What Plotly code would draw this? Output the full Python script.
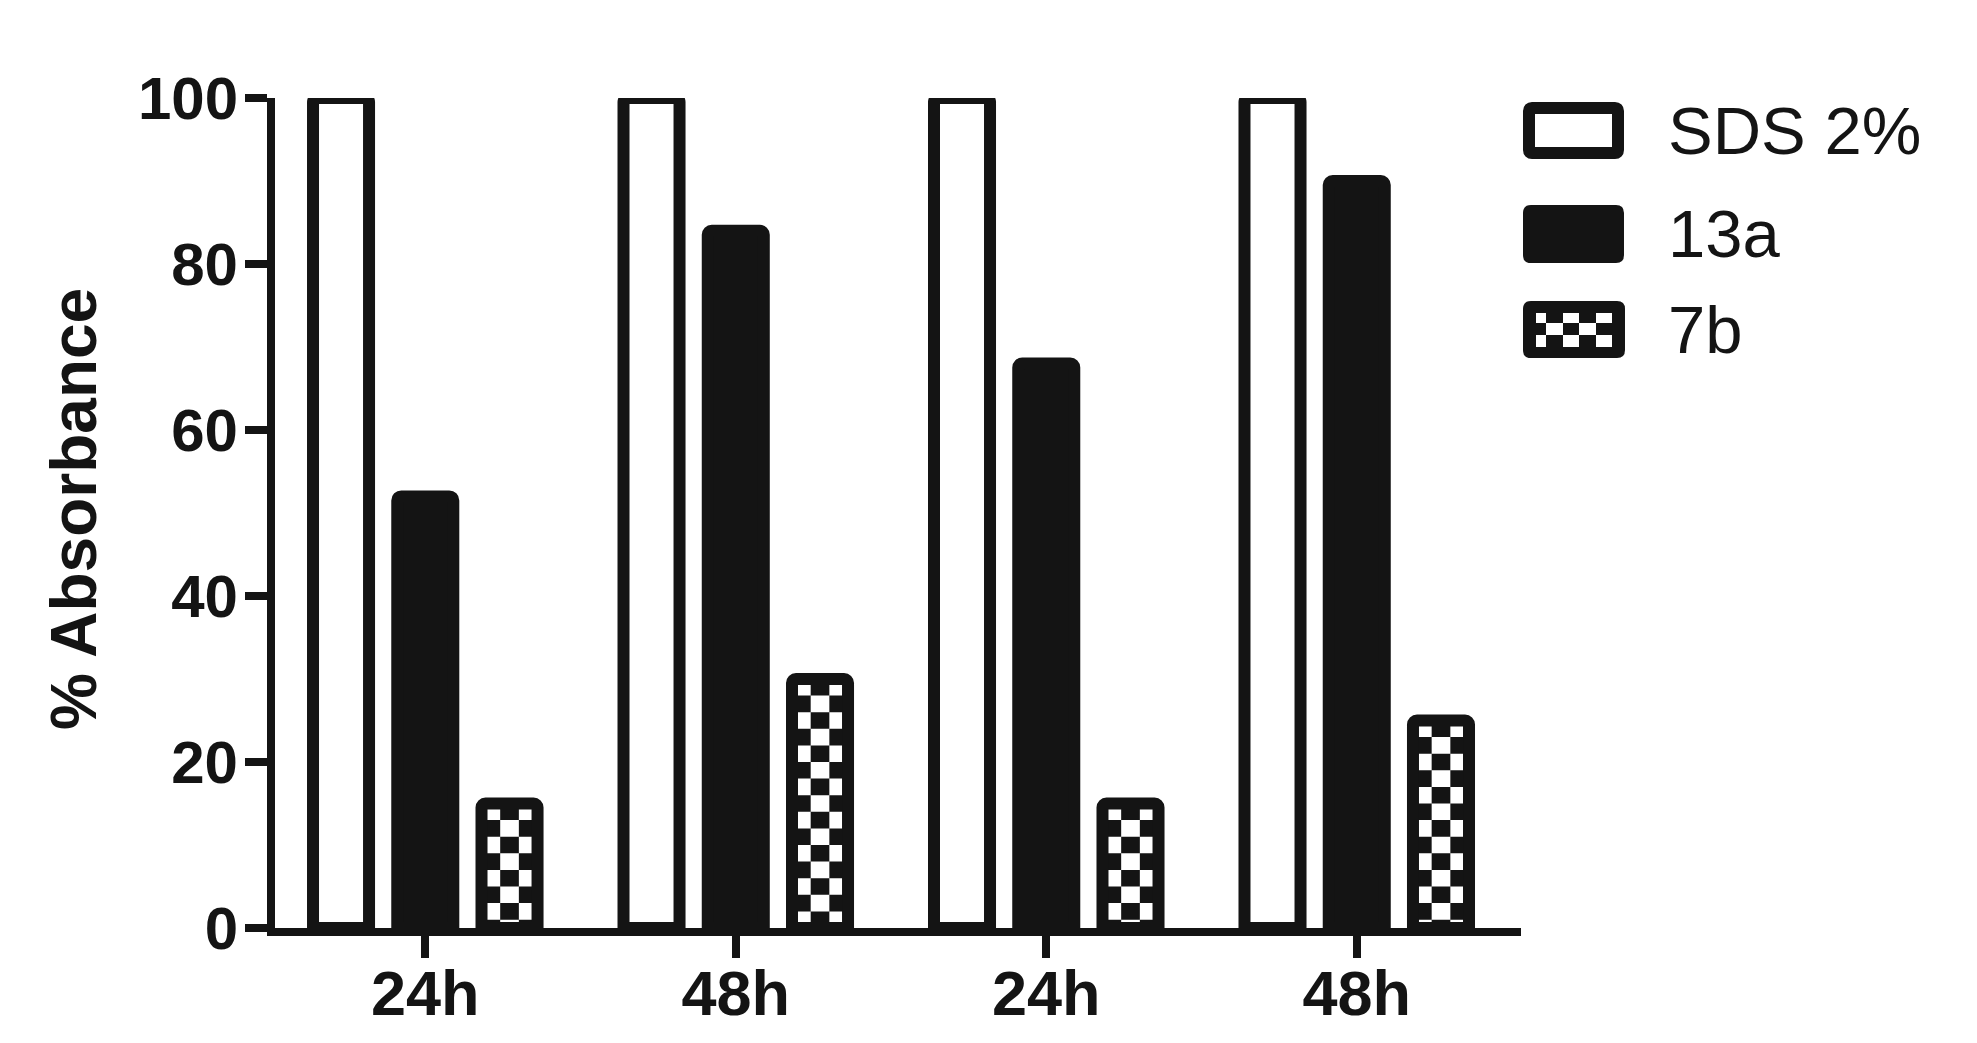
import plotly.graph_objects as go

# ---------------- data ----------------
categories = ["24h", "48h", "24h", "48h"]
series_names = ["SDS 2%", "13a", "7b"]
sds_values = [100, 100, 100, 100]
a13_values = [52, 84, 68, 90]
b7_values = [15, 30, 15, 25]
y_ticks = [0, 20, 40, 60, 80, 100]
y_title = "% Absorbance"

# ---------------- layout constants ----------------
W, H = 1977, 1043
ML, MR, MT, MB = 275, 456, 98, 115
PW = W - ML - MR
PH = H - MT - MB
INK = "#141414"
FONT = "Liberation Sans, Arial, sans-serif"
OUTLINE = 12
BARGAP = 0.186
BARGROUPGAP = 0.335
XRANGE = [-0.484, 3.529]

x_pos = list(range(len(categories)))
n_series = len(series_names)
slot = (1 - BARGAP) / n_series
bar_w = slot * (1 - BARGROUPGAP)


def px_x(px):
    return (px - ML) / PW


def px_y(py):
    return (H - MB - py) / PH


fig = go.Figure()
fills = ["white", INK, "rgba(0,0,0,0)"]
for name, vals, fill in zip(series_names, [sds_values, a13_values, b7_values], fills):
    fig.add_trace(go.Bar(
        x=x_pos, y=vals, name=name, showlegend=False,
        marker=dict(color=fill, line=dict(color=INK, width=OUTLINE), cornerradius=4),
    ))

# checker pattern for the 7b bars, computed from the data values
shapes = []
ROW_H = 2.0
NCOL = 3
for xi, v in zip(x_pos, b7_values):
    xc = xi + slot  # third bar of the group
    parts = []
    k = 0
    while v - k * ROW_H > 0:
        ytop = v - k * ROW_H
        ybot = max(v - (k + 1) * ROW_H, 0)
        for j in range(NCOL):
            black = (j % 2 == 1) if k % 2 == 0 else (j % 2 == 0)
            if black:
                x0 = xc - bar_w / 2 + j * bar_w / NCOL
                x1 = x0 + bar_w / NCOL
                parts.append(f"M{x0:.5f},{ybot:.4f} L{x1:.5f},{ybot:.4f} L{x1:.5f},{ytop:.4f} L{x0:.5f},{ytop:.4f} Z")
        k += 1
    shapes.append(dict(type="path", xref="x", yref="y", path=" ".join(parts),
                       fillcolor=INK, line=dict(width=0), layer="below"))


def rounded_rect_path(x0, y0, x1, y1, r):
    pts = [
        ("M", (x0 + r, y0)), ("L", (x1 - r, y0)), ("Q", (x1, y0, x1, y0 + r)),
        ("L", (x1, y1 - r)), ("Q", (x1, y1, x1 - r, y1)), ("L", (x0 + r, y1)),
        ("Q", (x0, y1, x0, y1 - r)), ("L", (x0, y0 + r)), ("Q", (x0, y0, x0 + r, y0)),
    ]
    s = []
    for cmd, c in pts:
        if cmd == "Q":
            s.append(f"Q{px_x(c[0]):.5f},{px_y(c[1]):.5f} {px_x(c[2]):.5f},{px_y(c[3]):.5f}")
        else:
            s.append(f"{cmd}{px_x(c[0]):.5f},{px_y(c[1]):.5f}")
    return " ".join(s) + " Z"


# legend (drawn manually to mimic the large rounded swatches)
LEG_X0, LEG_X1 = 1523, 1624
leg_rows = [(102, 159), (205, 263), (301, 358)]
# SDS: white with thick outline
y0, y1 = leg_rows[0]
shapes.append(dict(type="path", xref="paper", yref="paper",
                   path=rounded_rect_path(LEG_X0 + OUTLINE / 2, y0 + OUTLINE / 2,
                                          LEG_X1 - OUTLINE / 2, y1 - OUTLINE / 2, 3),
                   fillcolor="white", line=dict(color=INK, width=OUTLINE)))
# 13a: solid
y0, y1 = leg_rows[1]
shapes.append(dict(type="path", xref="paper", yref="paper",
                   path=rounded_rect_path(LEG_X0, y0, LEG_X1, y1, 8),
                   fillcolor=INK, line=dict(width=0)))
# 7b: black with checker of white squares
y0, y1 = leg_rows[2]
shapes.append(dict(type="path", xref="paper", yref="paper",
                   path=rounded_rect_path(LEG_X0, y0, LEG_X1 + 1, y1, 8),
                   fillcolor=INK, line=dict(width=0)))
col_edges = [1536, 1546, 1563, 1579, 1596, 1612]
row_edges = [313, 323, 335, 347]
for r in range(len(row_edges) - 1):
    for c in range(len(col_edges) - 1):
        if (r + c) % 2 == 0:
            shapes.append(dict(type="rect", xref="paper", yref="paper",
                               x0=px_x(col_edges[c]), x1=px_x(col_edges[c + 1]),
                               y0=px_y(row_edges[r + 1]), y1=px_y(row_edges[r]),
                               fillcolor="white", line=dict(width=0)))

annotations = []
for name, (y0, y1) in zip(series_names, leg_rows):
    annotations.append(dict(text=name, xref="paper", yref="paper",
                            x=px_x(1666), y=px_y((y0 + y1) / 2),
                            xanchor="left", yanchor="middle", showarrow=False,
                            font=dict(family=FONT, size=67, color=INK)))
annotations.append(dict(text=y_title, xref="paper", yref="paper",
                        x=px_x(74), y=px_y(509), xanchor="center", yanchor="middle",
                        textangle=-90, showarrow=False,
                        font=dict(family=FONT, size=64, color=INK, weight="bold")))

fig.update_layout(
    width=W, height=H,
    margin=dict(l=ML, r=MR, t=MT, b=MB, autoexpand=False),
    paper_bgcolor="white", plot_bgcolor="white",
    barmode="group", bargap=BARGAP, bargroupgap=BARGROUPGAP,
    showlegend=False,
    shapes=shapes, annotations=annotations,
    font=dict(family=FONT, color=INK),
)
fig.update_xaxes(
    range=XRANGE, tickmode="array", tickvals=x_pos, ticktext=categories,
    showline=True, linewidth=8, linecolor=INK, showgrid=False, zeroline=False,
    ticks="outside", ticklen=22, tickwidth=8, tickcolor=INK,
    tickfont=dict(family=FONT, size=63, color=INK, weight="bold"),
    ticklabelstandoff=-19,
    fixedrange=True,
)
fig.update_yaxes(
    range=[0, 100], tickmode="array", tickvals=y_ticks,
    showline=True, linewidth=8, linecolor=INK, showgrid=False, zeroline=False,
    ticks="outside", ticklen=22, tickwidth=8, tickcolor=INK,
    tickfont=dict(family=FONT, size=60, color=INK, weight="bold"),
    ticklabelstandoff=-5,
    fixedrange=True,
)

fig.write_html(
    "out.html",
    config=dict(displayModeBar=False),
    post_script="document.body.style.margin='0';document.body.style.overflow='hidden';",
)
